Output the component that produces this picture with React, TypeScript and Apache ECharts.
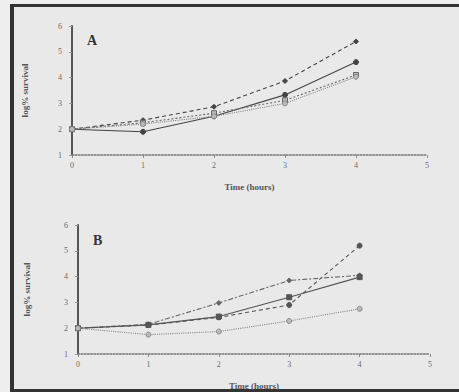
import React, { useEffect, useRef } from "react";
import * as echarts from "echarts";

const hours = [0, 1, 2, 3, 4];
const xTicks = ["0", "1", "2", "3", "4", "5"];

// Panel A
const a1 = [2.0, 2.35, 2.87, 3.87, 5.4];
const a2 = [2.0, 1.9, 2.5, 3.33, 4.6];
const a3 = [2.0, 2.25, 2.62, 3.12, 4.1];
const a4 = [2.0, 2.2, 2.5, 3.0, 4.03];

// Panel B
const b1 = [2.0, 2.12, 2.42, 2.9, 5.2];
const b2 = [2.0, 2.15, 2.98, 3.85, 4.05];
const b3 = [2.0, 2.13, 2.45, 3.2, 3.98];
const b4 = [2.0, 1.75, 1.87, 2.28, 2.75];

const FONT = "'Liberation Serif', 'DejaVu Serif', serif";

function pts(vals: number[]) {
  return vals.map((v, i) => [hours[i], v]);
}

export default function App() {
  const ref = useRef<HTMLDivElement>(null);
  useEffect(() => {
    if (!ref.current) return;
    const chart = echarts.init(ref.current, null, { renderer: "svg" });
    const xAxisBase = (gridIndex: number) => ({
      gridIndex,
      type: "value" as const,
      min: 0,
      max: 5,
      interval: 1,
      name: "Time (hours)",
      nameLocation: "middle" as const,
      nameGap: 27,
      nameTextStyle: { fontFamily: FONT, fontSize: 9, fontWeight: "bold" as const, color: "#555" },
      axisLine: { show: true, lineStyle: { color: "#777", width: 1.6, type: "dotted" as const } },
      axisTick: { show: true, length: 3, lineStyle: { color: "#888" } },
      axisLabel: {
        margin: 6,
        fontFamily: FONT,
        fontSize: 8,
        color: "#6a6a6a",
        formatter: (v: number) => xTicks[Math.round(v)] ?? "",
      },
      splitLine: { show: false },
    });
    const yAxisBase = (gridIndex: number, gap: number) => ({
      gridIndex,
      type: "value" as const,
      min: 1,
      max: 6,
      interval: 1,
      name: "log% survival",
      nameLocation: "middle" as const,
      nameGap: gap,
      nameTextStyle: { fontFamily: FONT, fontSize: 9, fontWeight: "bold" as const, color: "#555" },
      axisLine: { show: true, lineStyle: { color: "#555", width: 2 } },
      axisTick: { show: true, inside: false, length: 3, lineStyle: { color: "#999" } },
      axisLabel: { margin: 10, fontFamily: FONT, fontSize: 8, color: "#6a6a6a" },
      splitLine: { show: false },
    });
    const line = (
      data: number[],
      xi: number,
      type: any,
      symbol: string,
      color: string,
      filled: boolean
    ) => ({
      type: "line" as const,
      xAxisIndex: xi,
      yAxisIndex: xi,
      data: pts(data),
      symbol,
      symbolSize: 5,
      lineStyle: { color, width: 1.1, type },
      itemStyle: { color: filled ? color : "#bbb", borderColor: color, borderWidth: 1 },
      z: 3,
    });
    chart.setOption({
      animation: false,
      backgroundColor: "#eeeeee",
      grid: [
        { left: 72, top: 26, width: 355, height: 129 },
        { left: 78, top: 225, width: 352, height: 129 },
      ],
      xAxis: [xAxisBase(0), xAxisBase(1)],
      yAxis: [yAxisBase(0, 43), yAxisBase(1, 47)],
      series: [
        line(a1, 0, [4, 3], "diamond", "#444", true),
        line(a2, 0, "solid", "circle", "#444", true),
        line(a3, 0, [2, 2], "rect", "#666", false),
        line(a4, 0, "dotted", "circle", "#888", false),
        line(b1, 1, [4, 3], "circle", "#555", true),
        line(b2, 1, [5, 2, 2, 2], "diamond", "#666", true),
        line(b3, 1, "solid", "rect", "#555", true),
        line(b4, 1, "dotted", "circle", "#888", false),
      ],
      graphic: [
        { type: "rect", shape: { x: 10, y: 4, width: 449, height: 3 }, style: { fill: "#333" } },
        { type: "rect", shape: { x: 10, y: 4, width: 4, height: 388 }, style: { fill: "#333" } },
        { type: "rect", shape: { x: 10, y: 389, width: 449, height: 3 }, style: { fill: "#333" } },
        { type: "rect", shape: { x: 14, y: 7, width: 445, height: 382 }, style: { fill: "#e9e9e9" }, z: -10 },
        {
          type: "text",
          x: 87,
          y: 33,
          style: { text: "A", font: `bold 14px ${FONT}`, fill: "#333" },
        },
        {
          type: "text",
          x: 93,
          y: 233,
          style: { text: "B", font: `bold 14px ${FONT}`, fill: "#333" },
        },
      ],
    });
    return () => chart.dispose();
  }, []);
  return (
    <div
      ref={ref}
      style={{ position: "fixed", left: 0, top: 0, width: 459, height: 392 }}
    />
  );
}
